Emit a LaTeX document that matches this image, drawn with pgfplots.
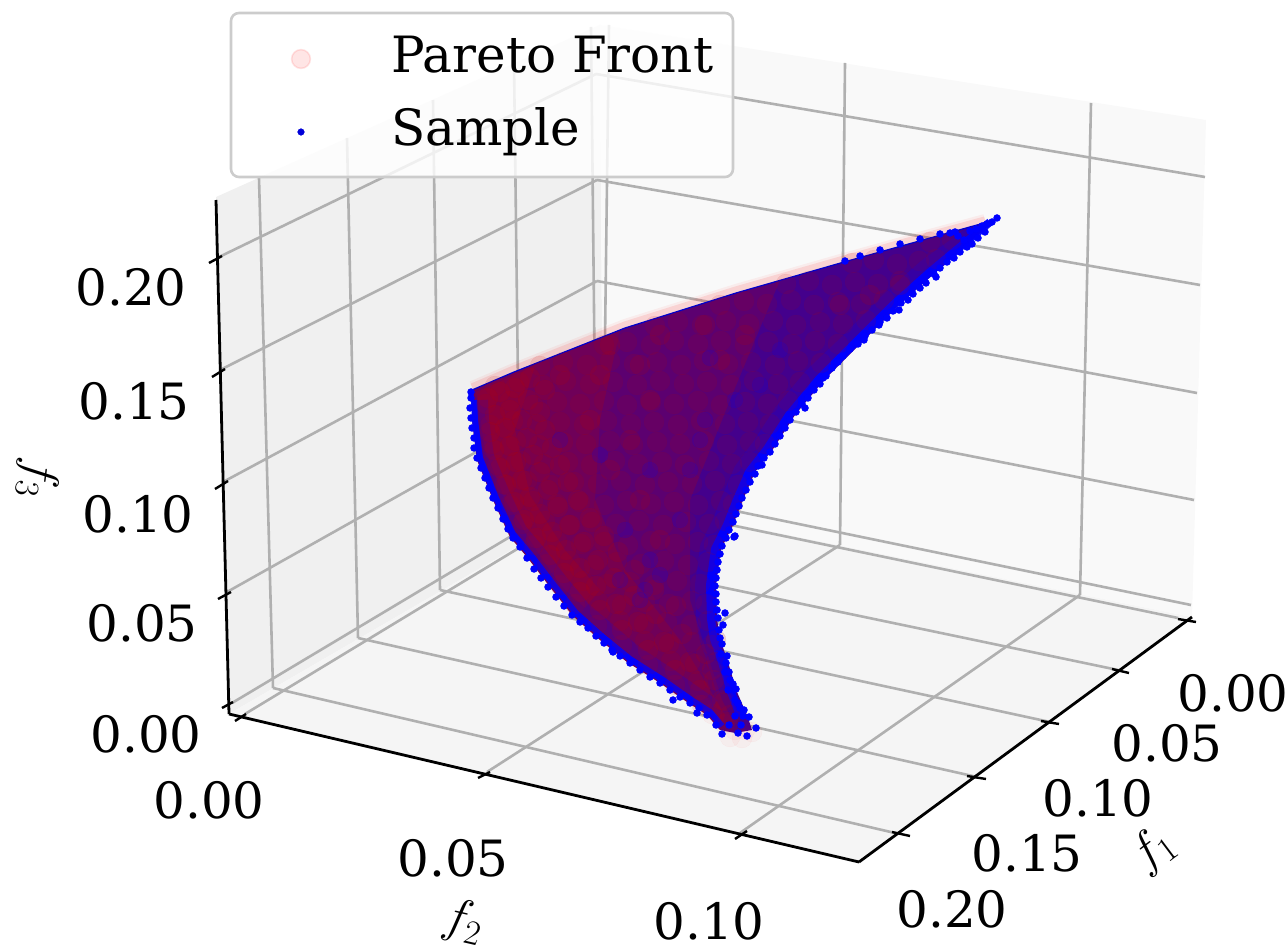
\documentclass[border=0pt]{standalone}
\usepackage{pgfplots}
\pgfplotsset{compat=1.18}
\usepackage{fontspec}
\setmainfont{DejaVu Serif}
\DeclareMathSizes{25}{25}{17.5}{13}
\definecolor{gridc}{HTML}{B0B0B0}
\definecolor{dred}{HTML}{BF0000}
\definecolor{basec}{HTML}{44008C}
\pgfplotsset{
  gl/.style={forget plot,no markers,draw=gridc,line width=1.3pt,line cap=butt},
  ax/.style={forget plot,no markers,draw=black,line width=1.4pt,line cap=butt},
  tk/.style={forget plot,no markers,draw=black,line width=1.2pt},
}
\newcommand{\lab}[2]{\node[anchor=center,inner sep=0pt] at (axis cs:#1) {\fontsize{25}{29}\selectfont #2};}
\begin{document}
\begin{tikzpicture}
\path[use as bounding box] (0,0) rectangle (643pt,475.5pt);
\begin{axis}[
  at={(0,0)},anchor=south west,scale only axis,
  width=643pt,height=475.5pt,
  xmin=0,xmax=1286,ymin=0,ymax=951,y dir=reverse,
  hide axis,clip=false,
]
% panes
\addplot[forget plot,fill=black!6,draw=none] coordinates {(229,714)(216,197)(600,25)(603,497)} -- cycle;
\addplot[forget plot,fill=black!4,draw=none] coordinates {(229,714)(859,862)(1192,617)(603,497)} -- cycle;
\addplot[forget plot,fill=black!2.4,draw=none] coordinates {(603,497)(600,25)(1206,120)(1192,617)} -- cycle;
% floor grid
\addplot[gl] coordinates {(1178,618)(596,497)};
\addplot[gl] coordinates {(1118,670)(520,545)};
\addplot[gl] coordinates {(1050,722)(440,590)};
\addplot[gl] coordinates {(977,777)(358,638)};
\addplot[gl] coordinates {(895,833)(273,688)};
\addplot[gl] coordinates {(245,714)(603,497)};
\addplot[gl] coordinates {(487,772)(840,545)};
\addplot[gl] coordinates {(740,833)(1080,595)};
% left wall grid
\addplot[gl] coordinates {(217,258)(596,74)};
\addplot[gl] coordinates {(220,370)(597,180)};
\addplot[gl] coordinates {(223,482)(597,281)};
\addplot[gl] coordinates {(227,592)(599,383)};
\addplot[gl] coordinates {(232,703)(600,483)};
\addplot[gl] coordinates {(273,688)(259,178)};
\addplot[gl] coordinates {(358,638)(347,138)};
\addplot[gl] coordinates {(440,590)(433,100)};
\addplot[gl] coordinates {(520,545)(514,63)};
\addplot[gl] coordinates {(596,497)(591,27)};
% right wall grid
\addplot[gl] coordinates {(596,74)(1205,177)};
\addplot[gl] coordinates {(597,180)(1200,285)};
\addplot[gl] coordinates {(597,281)(1197,393)};
\addplot[gl] coordinates {(599,383)(1194,500)};
\addplot[gl] coordinates {(600,483)(1191,605)};
\addplot[gl] coordinates {(603,497)(609,25)};
\addplot[gl] coordinates {(840,545)(845,63)};
\addplot[gl] coordinates {(1080,595)(1091,103)};
% axes and ticks
\addplot[ax] coordinates {(216,200)(229,714)};
\addplot[ax] coordinates {(229,714)(859,862)};
\addplot[ax] coordinates {(859,862)(1192,617)};
\addplot[tk] coordinates {(209,263)(222,256)};
\addplot[tk] coordinates {(212,377)(225,369)};
\addplot[tk] coordinates {(215,489)(228,481)};
\addplot[tk] coordinates {(218,599)(231,592)};
\addplot[tk] coordinates {(222,708)(233,702)};
\addplot[tk] coordinates {(235,721)(246,714)};
\addplot[tk] coordinates {(478,778)(490,772)};
\addplot[tk] coordinates {(735,839)(747,831)};
\addplot[tk] coordinates {(1178,619)(1196,622)};
\addplot[tk] coordinates {(1112,669)(1129,673)};
\addplot[tk] coordinates {(1041,721)(1059,724)};
\addplot[tk] coordinates {(967,776)(986,779)};
\addplot[tk] coordinates {(892,832)(910,836)};
% legend
\draw[draw=black!20,line width=1.3pt,rounded corners=4pt,fill=white,fill opacity=0.8] (axis cs:231,13) rectangle (axis cs:733,177);
\addplot[forget plot,only marks,mark=*,mark size=4.7pt,mark options={fill=red,draw=red,line width=0.8pt,opacity=0.1}] coordinates {(301,59)};
\addplot[forget plot,only marks,mark=*,mark size=1.7pt,mark options={fill=blue!85!black,draw=blue!85!black,line width=0.1pt}] coordinates {(301,132)};
\node[anchor=base west,inner sep=0pt] at (axis cs:391,73) {\fontsize{25}{29}\selectfont Pareto Front};
\node[anchor=base west,inner sep=0pt] at (axis cs:391,146) {\fontsize{25}{29}\selectfont Sample};
% Pareto front: halo around the cloud
\addplot[forget plot,no markers,draw=red,opacity=0.05,line width=6pt] coordinates {(472,387)(514,369)(625,325)(736,290)(844,259)(930,235)(985,220)};
\addplot[forget plot,no markers,draw=red,opacity=0.1,line width=3.6pt] coordinates {(472,387)(514,369)(625,325)(736,290)(844,259)(930,235)(985,220)};
\addplot[forget plot,only marks,mark=*,mark size=5pt,mark options={fill=red,draw=red,line width=0.2pt,opacity=0.03}]
coordinates {(735,730)(745,730)(725,724)(712,714)(700,705)(752,732)(730,737)(742,738)};
% base of the cloud
\addplot[forget plot,fill=basec,draw=none] coordinates {(472,390)(514,372)(625,328)(736,293)(844,262)(930,238)(995,220)(936,272)(899,305)(862,342)(825,379)(795,415)(773,449)(755,472)(742,502)(733,525)(721,549)(716,585)(717,619)(720,639)(727,659)(737,692)(747,715)(752,730)(735,733)(720,730)(707,715)(687,702)(660,683)(627,662)(600,640)(573,616)(550,587)(527,557)(510,537)(493,500)(477,460)(472,420)} -- cycle;
% broad red regions of the cloud
\addplot[forget plot,fill=dred,draw=none,opacity=0.2] coordinates {(472,390)(514,372)(625,328)(736,293)(780,280)(730,400)(690,500)(690,600)(722,700)(735,725)(720,730)(707,715)(687,702)(660,683)(627,662)(600,640)(573,616)(550,587)(527,557)(510,537)(493,500)(477,460)(472,420)} -- cycle;
\addplot[forget plot,fill=dred,draw=none,opacity=0.2] coordinates {(472,390)(514,372)(620,330)(600,420)(595,500)(625,570)(680,640)(725,715)(720,730)(707,715)(687,702)(660,683)(627,662)(600,640)(573,616)(550,587)(527,557)(510,537)(493,500)(477,460)(472,420)} -- cycle;
\addplot[forget plot,fill=dred,draw=none,opacity=0.2] coordinates {(476,392)(535,366)(515,430)(530,495)(565,550)(600,590)(585,608)(560,585)(535,548)(505,500)(485,450)} -- cycle;
% Pareto front: dense points over the cloud
\addplot[forget plot,only marks,mark=*,mark size=5pt,mark options={fill=dred,draw=dred,line width=0.1pt,opacity=0.1}]
coordinates {(930,242)(952,240)
(852,263)(874,260)(897,264)(919,261)(936,259)
(786,284)(809,281)(832,285)(855,282)(878,284)(900,281)
(720,305)(744,301)(767,304)(791,300)(814,305)(838,302)(861,304)(884,300)
(655,326)(678,322)(702,325)(726,321)(749,324)(773,321)(796,325)(820,322)(843,324)(866,320)
(604,345)(627,342)(651,345)(674,341)(698,344)(721,341)(745,345)(768,342)(792,344)(815,341)(838,344)
(540,366)(563,362)(587,365)(610,361)(634,364)(657,362)(681,365)(704,361)(728,364)(751,362)(775,365)(798,361)(821,363)
(495,386)(519,382)(543,385)(566,381)(590,384)(613,382)(637,385)(660,381)(684,384)(707,382)(731,385)(754,381)(778,384)(800,382)
(486,404)(510,401)(533,405)(557,402)(580,404)(604,401)(627,405)(651,402)(674,404)(698,401)(721,405)(745,402)(768,404)(788,401)
(490,425)(513,421)(537,424)(560,422)(584,425)(607,421)(631,424)(654,422)(678,425)(701,421)(725,424)(748,422)(770,424)
(492,444)(516,441)(539,445)(563,442)(586,444)(610,441)(633,445)(657,442)(680,444)(704,441)(727,445)(750,442)(765,444)
(497,465)(521,461)(544,464)(568,462)(591,465)(615,461)(638,464)(662,462)(685,465)(709,461)(732,464)(750,462)
(504,484)(527,481)(551,485)(574,482)(598,484)(621,481)(645,485)(668,482)(692,484)(715,481)(738,485)
(510,505)(533,501)(557,504)(580,502)(604,505)(627,501)(651,504)(674,502)(698,505)(721,501)(733,504)
(522,524)(545,521)(569,525)(592,522)(616,524)(639,521)(663,525)(686,522)(709,524)(725,521)
(534,545)(557,541)(581,544)(604,542)(628,545)(651,541)(675,544)(698,542)(714,545)
(547,564)(570,561)(594,565)(617,562)(641,564)(664,561)(688,565)(708,562)
(560,585)(583,581)(607,584)(630,582)(654,585)(677,581)(700,584)
(575,604)(598,601)(622,605)(645,602)(669,604)(692,601)(706,604)
(597,625)(620,621)(644,624)(667,622)(691,625)(708,621)
(622,645)(645,641)(669,644)(692,642)(712,645)
(648,665)(671,661)(695,664)(716,662)
(675,685)(698,681)(722,684)
(702,705)(725,701)(728,722)};
\addplot[forget plot,only marks,mark=*,mark size=5pt,mark options={fill=dred,draw=dred,line width=0.1pt,opacity=0.14}]
coordinates {(488,398)(500,392)(515,388)(530,378)(495,415)(510,410)(528,400)(545,390)(560,375)(490,432)(505,428)(522,420)(540,412)(494,450)(510,446)(527,438)(545,430)(500,468)(516,462)(533,455)(552,448)(506,485)(522,480)(540,472)(560,465)(514,502)(530,497)(548,490)(568,482)(524,520)(540,514)(558,507)(578,500)(536,538)(552,532)(570,525)(590,518)(550,555)(566,550)(584,542)(604,536)(564,573)(580,568)(598,560)(618,552)(580,592)(596,586)(614,578)(634,570)(600,610)(616,604)(634,596)(654,590)(622,630)(638,622)(656,614)(676,606)(648,650)(664,642)(682,634)(675,670)(690,662)(706,654)(700,690)(714,680)(722,700)(730,715)(712,670)(716,640)(610,345)(660,335)(705,325)(745,335)(600,375)(640,365)(590,420)(630,440)(650,400)(720,360)(840,305)(870,295)(900,285)(640,500)(660,540)(610,470)};
% Sample showing through in the cloud
\addplot[forget plot,only marks,mark=*,mark size=4pt,mark options={fill=blue,draw=blue,line width=0.1pt,opacity=0.14}]
coordinates {(710,358)(650,560)(640,600)(620,580)(690,470)(760,385)(780,350)(705,420)(680,520)(645,590)(660,575)(700,440)(735,400)(600,455)(650,470)(625,530)(560,440)};
% Sample: edge bands
\addplot[forget plot,no markers,draw=blue,opacity=0.2,line width=8pt,line join=round] coordinates {(975,232)(925,268)(886,303)(850,340)(812,376)(782,412)(760,446)(742,470)(729,500)(720,523)(708,547)(703,585)(704,619)(708,640)(715,660)(725,692)};
\addplot[forget plot,no markers,draw=blue,opacity=0.95,line width=4pt,line join=round] coordinates {(990,222)(930,272)(893,305)(856,342)(819,379)(789,415)(767,449)(749,472)(736,502)(727,525)(715,549)(710,585)(711,619)(714,639)(721,659)(731,692)(740,715)};
\addplot[forget plot,no markers,draw=blue,opacity=0.2,line width=6pt,line join=round] coordinates {(482,400)(483,420)(488,456)(504,494)(521,530)(538,550)(561,580)(584,608)(610,630)(636,652)(668,673)(695,692)(714,705)};
\addplot[forget plot,no markers,draw=blue,opacity=0.95,line width=3pt,line join=round] coordinates {(474,400)(475,420)(480,458)(496,498)(513,534)(530,554)(553,584)(576,613)(603,637)(630,659)(663,680)(690,699)(710,712)(722,726)};
\addplot[forget plot,no markers,draw=blue!80!black,line width=0.6pt] coordinates {(472,390)(514,372)(625,328)(736,293)(844,262)(930,238)(995,220)};
% Sample
\addplot[forget plot,only marks,mark=*,mark size=1.8pt,mark options={fill=blue,draw=blue,line width=0.1pt}]
coordinates {(997,218)(992,222)(987,224)(982,226)(976,229)(970,231)(964,240)(958,236)(955,232)(950,233)(985,232)(978,238)(972,244)(967,247)(960,252)(954,258)(947,262)(940,268)(934,274)(936,277)(926,283)(920,288)(913,294)(908,300)(899,310)(901,303)(893,311)(887,318)(880,322)(879,325)(872,330)(865,336)(858,344)(864,340)(850,349)(843,356)(838,362)(832,368)(826,376)(823,378)(820,384)(814,390)(808,398)(805,408)(802,404)(796,412)(790,420)(785,428)(780,436)(775,444)(770,452)(764,458)(762,465)(758,466)(755,474)(750,482)(746,490)(742,498)(739,506)(736,514)(733,522)(729,530)(726,538)(735,536)(734,537)(722,546)(720,554)(718,562)(717,570)(716,578)(715,586)(716,594)(716,602)(717,610)(725,613)(718,618)(723,625)(719,630)(720,638)(722,644)(727,656)(726,663)(729,672)(721,654)(725,672)(730,680)(733,684)(728,690)(736,689)(735,700)(738,703)(740,708)(744,710)(749,717)(743,716)(756,728)(747,736)(738,733)(722,734)(729,725)(716,725)(741,725)(735,716)
(707,715)(697,713)(699,708)(690,703)(680,697)(673,700)(670,690)(660,683)(650,677)(640,670)(630,663)(620,656)(613,652)(612,650)(604,643)(596,636)(588,628)(580,622)(572,615)(564,606)(556,597)(548,587)(541,578)(534,569)(527,558)(520,547)(513,538)(508,529)(503,519)(498,508)(493,498)(489,488)(485,478)(481,468)(477,458)(474,448)(474,438)(472,428)(471,418)(470,408)(471,398)(471,392)
(940,234)(920,239)(900,244)(880,250)(860,256)(845,261)};
% tick labels
\lab{131,287}{0.20}\lab{134,401}{0.15}\lab{138,514}{0.10}\lab{142,623}{0.05}\lab{146,734}{0.00}
\lab{209,800}{0.00}\lab{453,858}{0.05}\lab{709,921}{0.10}
\lab{1233,693}{0.00}\lab{1167,743}{0.05}\lab{1098,798}{0.10}\lab{1027,853}{0.15}\lab{952,909}{0.20}
\node[anchor=center,inner sep=0pt,rotate=37] at (axis cs:1153,850) {\fontsize{25}{29}\selectfont $f_1$};
\node[anchor=center,inner sep=0pt,rotate=-13] at (axis cs:463,922) {\fontsize{25}{29}\selectfont $f_2$};
\node[anchor=center,inner sep=0pt,rotate=-97] at (axis cs:37,478) {\fontsize{25}{29}\selectfont $f_3$};
\end{axis}
\end{tikzpicture}
\end{document}
